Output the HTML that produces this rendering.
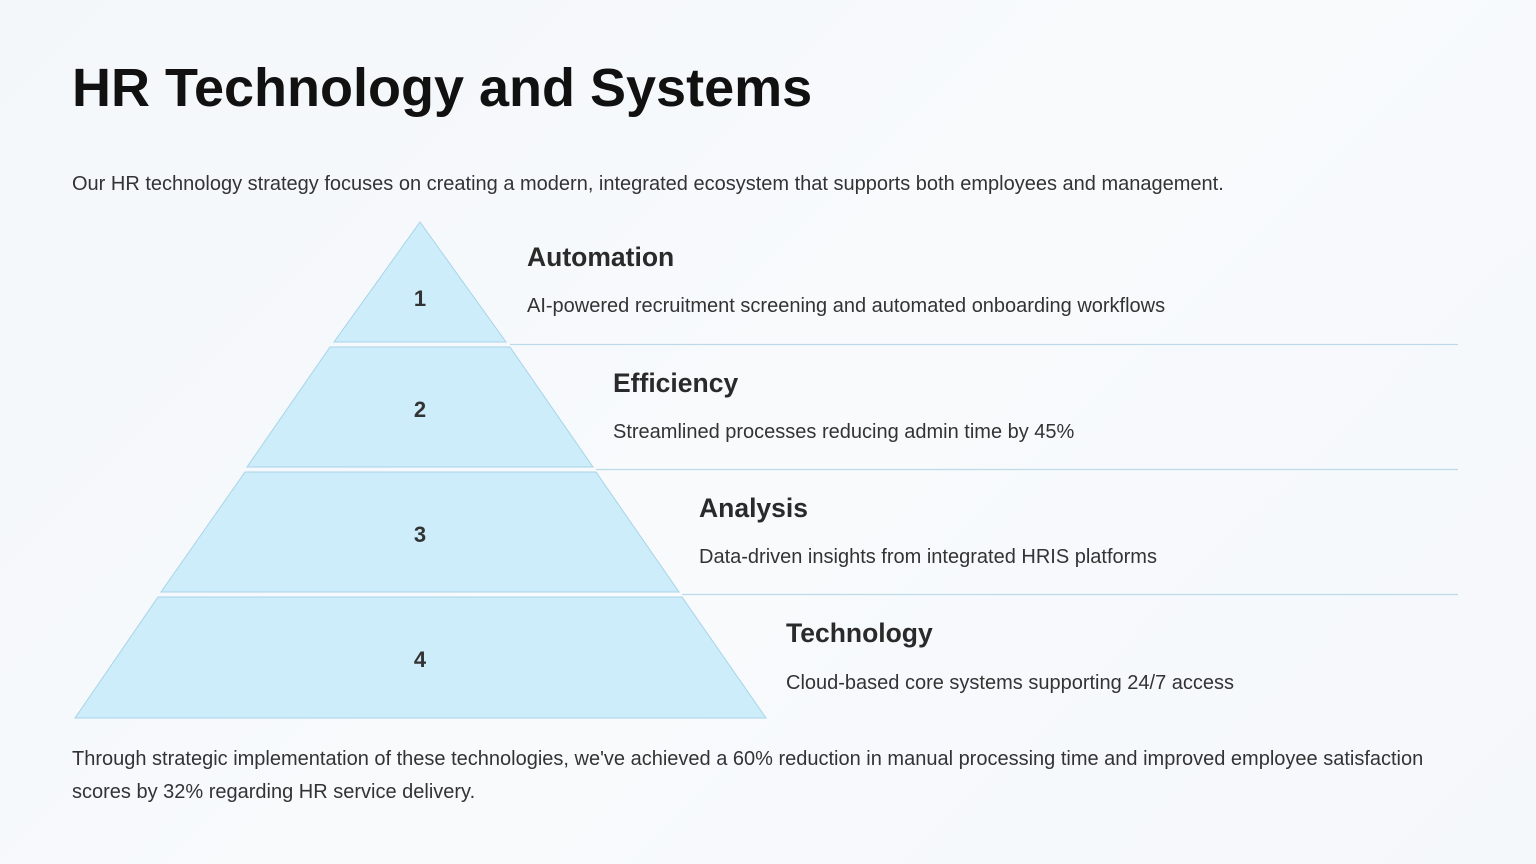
<!DOCTYPE html>
<html><head><meta charset="utf-8"><style>
body{margin:0;width:1536px;height:864px;background:linear-gradient(135deg,#f3f7fa,#f8fafc 50%,#f5f8fb);font-family:"Liberation Sans",sans-serif;overflow:hidden;position:relative;color:#222}
.t{position:absolute;white-space:nowrap}
h1{position:absolute;left:72px;top:57px;margin:0;font-size:54px;font-weight:bold;color:#111}
.h{font-size:26.5px;font-weight:bold;color:#2a2a2a}
.d{font-size:20px;color:#333}
</style></head><body>
<h1>HR Technology and Systems</h1>
<div class="t d" style="left:72px;top:173px">Our HR technology strategy focuses on creating a modern, integrated ecosystem that supports both employees and management.</div>
<svg width="1536" height="864" style="position:absolute;left:0;top:0">
<g fill="#cdedfb" stroke="#a8d4e8" stroke-width="1">
<polygon points="420,222 506,342 334,342"/>
<polygon points="330,347 510,347 593,467 247,467"/>
<polygon points="245,472 596,472 679,592 161,592"/>
<polygon points="158,597 682,597 766,718 75,718"/>
</g>
<g stroke="#bcdbe8" stroke-width="1.2">
<line x1="510" y1="344.5" x2="1458" y2="344.5"/>
<line x1="596" y1="469.5" x2="1458" y2="469.5"/>
<line x1="682" y1="594.5" x2="1458" y2="594.5"/>
</g>
<g font-family="Liberation Sans" font-weight="bold" font-size="22" fill="#333" text-anchor="middle">
<text x="420" y="306">1</text><text x="420" y="417">2</text><text x="420" y="542">3</text><text x="420" y="667">4</text>
</g>
</svg>
<div class="t h" style="left:527px;top:242px">Automation</div>
<div class="t d" style="left:527px;top:295px">AI-powered recruitment screening and automated onboarding workflows</div>
<div class="t h" style="left:613px;top:368px">Efficiency</div>
<div class="t d" style="left:613px;top:421px">Streamlined processes reducing admin time by 45%</div>
<div class="t h" style="left:699px;top:493px">Analysis</div>
<div class="t d" style="left:699px;top:546px">Data-driven insights from integrated HRIS platforms</div>
<div class="t h" style="left:786px;top:618px">Technology</div>
<div class="t d" style="left:786px;top:672px">Cloud-based core systems supporting 24/7 access</div>
<div class="t d" style="left:72px;top:743px;line-height:33px;white-space:normal;width:1380px">Through strategic implementation of these technologies, we've achieved a 60% reduction in manual processing time and improved employee satisfaction scores by 32% regarding HR service delivery.</div>
</body></html>
